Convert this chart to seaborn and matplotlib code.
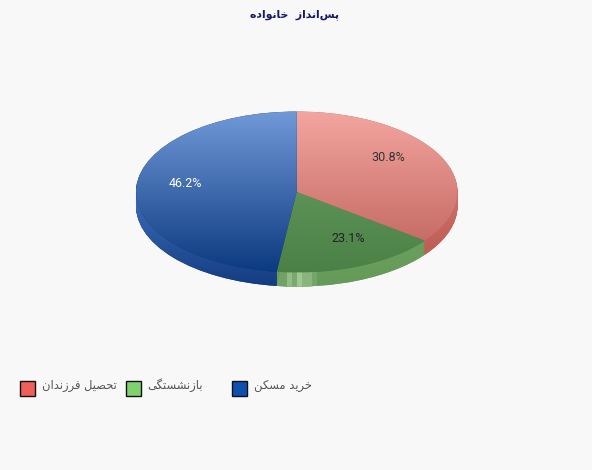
import numpy as np
import matplotlib
matplotlib.use("Agg")
import matplotlib.pyplot as plt
from matplotlib.patches import Rectangle
import seaborn as sns

# --- data ---
title_text = "پس\u200cانداز  خانواده"
categories = ["تحصیل فرزندان", "بازنشستگی", "خرید مسکن"]
shares = [30.8, 23.1, 46.2]
share_labels = ["30.8%", "23.1%", "46.2%"]

# --- colours ---
bg_color = "#f8f8f8"
swatch_colors = ["#f0605a", "#7fd26f", "#0f4fb0"]
top_colors = [("#f4a5a0", "#bb5f58"), ("#6ea567", "#4b8046"), ("#7199d8", "#0c3a80")]
rim_colors = [("#cf6f66", "#b5534b"), ("#6fa363", "#659a59"), ("#3f6fb8", "#123a80")]
label_colors = ["#333333", "#222222", "#ffffff"]

W, H = 592, 470

# matplotlib has no arabic shaping, so pick the joined forms by hand
FORMS = {
    "پ": (0xFB56, 0xFB57, 0xFB58, 0xFB59), "س": (0xFEB1, 0xFEB2, 0xFEB3, 0xFEB4),
    "ن": (0xFEE5, 0xFEE6, 0xFEE7, 0xFEE8), "خ": (0xFEA5, 0xFEA6, 0xFEA7, 0xFEA8),
    "ه": (0xFEE9, 0xFEEA, 0xFEEB, 0xFEEC), "ت": (0xFE95, 0xFE96, 0xFE97, 0xFE98),
    "ح": (0xFEA1, 0xFEA2, 0xFEA3, 0xFEA4), "ی": (0xFBFC, 0xFBFD, 0xFBFE, 0xFBFF),
    "ل": (0xFEDD, 0xFEDE, 0xFEDF, 0xFEE0), "ف": (0xFED1, 0xFED2, 0xFED3, 0xFED4),
    "ب": (0xFE8F, 0xFE90, 0xFE91, 0xFE92), "ش": (0xFEB5, 0xFEB6, 0xFEB7, 0xFEB8),
    "گ": (0xFB92, 0xFB93, 0xFB94, 0xFB95), "م": (0xFEE1, 0xFEE2, 0xFEE3, 0xFEE4),
    "ک": (0xFB8E, 0xFB8F, 0xFB90, 0xFB91), "ص": (0xFEB9, 0xFEBA, 0xFEBB, 0xFEBC),
    "ا": (0xFE8D, 0xFE8E), "د": (0xFEA9, 0xFEAA), "ر": (0xFEAD, 0xFEAE),
    "ز": (0xFEAF, 0xFEB0), "و": (0xFEED, 0xFEEE),
}


def shape(text):
    out = []
    for i, ch in enumerate(text):
        if ch == "\u200c":
            continue
        if ch not in FORMS:
            out.append(ch)
            continue
        prev = text[i - 1] if i > 0 else " "
        nxt = text[i + 1] if i + 1 < len(text) else " "
        joins_prev = prev in FORMS and len(FORMS[prev]) == 4
        joins_next = nxt in FORMS and len(FORMS[ch]) == 4
        if joins_prev and joins_next:
            idx = 3
        elif joins_next:
            idx = 2
        elif joins_prev:
            idx = 1
        else:
            idx = 0
        out.append(chr(FORMS[ch][idx]))
    return "".join(reversed(out))


def perspective(angle, k=0.689, shift=0.021):
    # the near edge of the tilted pie looks bigger, so angles squeeze towards the bottom
    t = ((angle + 270) % 360) - 180
    return -90 + 2 * np.degrees(np.arctan(k * np.tan(np.radians(t / 2)) + shift))


def draw_pie(ax, y_offset):
    wedges, _ = ax.pie(shares, startangle=90, counterclock=False, colors=swatch_colors,
                       center=(0, y_offset), wedgeprops={"linewidth": 0})
    for w in wedges:
        t1, t2 = perspective(w.theta1), perspective(w.theta2)
        while t2 <= t1:
            t2 += 360
        w.set_theta1(t1)
        w.set_theta2(t2)
    return wedges


def fill_gradient(ax, wedge, pair, extent, zorder):
    cmap = sns.blend_palette(list(pair), n_colors=64, as_cmap=True)
    grad = np.linspace(0, 1, 256).reshape(-1, 1)
    wedge.set_facecolor(pair[1])
    wedge.set_zorder(zorder - 0.5)
    im = ax.imshow(grad, extent=extent, origin="upper", cmap=cmap, aspect="auto", zorder=zorder)
    im.set_clip_path(wedge)
    return im


sns.set_theme(style="white", rc={"figure.facecolor": bg_color, "axes.facecolor": bg_color})
plt.rcParams["font.family"] = ["Roboto", "DejaVu Sans"]

fig = plt.figure(figsize=(W / 100, H / 100), dpi=100)

# images get cut at the axes box, so it has to hold the rim as well (1 unit = 80.5 px in y)
ax = fig.add_axes([136 / W, 1 - 292.6 / H, 321.5 / W, 181.1 / H])
depth = 0.175

# rim: stacked copies going down, deepest first
offsets = np.linspace(depth, 0.01, 16)
for n, off in enumerate(offsets):
    rim = draw_pie(ax, -off)
    for w, pair in zip(rim, rim_colors):
        fill_gradient(ax, w, pair, (-1, 1, -1.2, 0.0), 2 + n * 0.01)
    if n == 0:
        rim_green = rim[1]

# light strip on the green rim, drawn over the copies
strip = np.array([[0.1, 0.1, 0.45, 0.2, 0.6, 0.35, 0.35, 0.15]])
strip_cmap = sns.blend_palette(["#689c5c", "#c4e4b8"], n_colors=32, as_cmap=True)
im = ax.imshow(strip, extent=(-0.125, 0.12, -1.2, -0.8), cmap=strip_cmap, vmin=0, vmax=1,
               aspect="auto", interpolation="nearest", zorder=3)
im.set_clip_path(rim_green)

# top face with vertical gradient in each slice
top = draw_pie(ax, 0)
for w, pair in zip(top, top_colors):
    fill_gradient(ax, w, pair, (-1, 1, -1, 1), 4)

ax.set_aspect("auto")
ax.set_xlim(-1, 1)
ax.set_ylim(-1.25, 1)

# slice labels
label_xy = [(388, 158), (348, 239), (185, 183)]
for (x, y), txt, col in zip(label_xy, share_labels, label_colors):
    fig.text(x / W, 1 - y / H, txt, color=col, fontsize=9, ha="center", va="center", zorder=10)

# title
fig.text(295 / W, 1 - 15 / H, shape(title_text), family="DejaVu Sans", fontweight="bold",
         fontsize=7.8, color="#16166b", ha="center", va="center")

# legend row
for x, name, col in zip([20, 126, 232], categories, swatch_colors):
    fig.add_artist(Rectangle((x / W, 1 - 395.5 / H), 15 / W, 15 / H, transform=fig.transFigure,
                             facecolor=col, edgecolor="#111111", linewidth=1))
    fig.text((x + 21.5) / W, 1 - 385 / H, shape(name), family="DejaVu Sans", fontsize=8.3,
             color="#555555", ha="left", va="center")

fig.savefig("out.png", dpi=100, facecolor=bg_color)
